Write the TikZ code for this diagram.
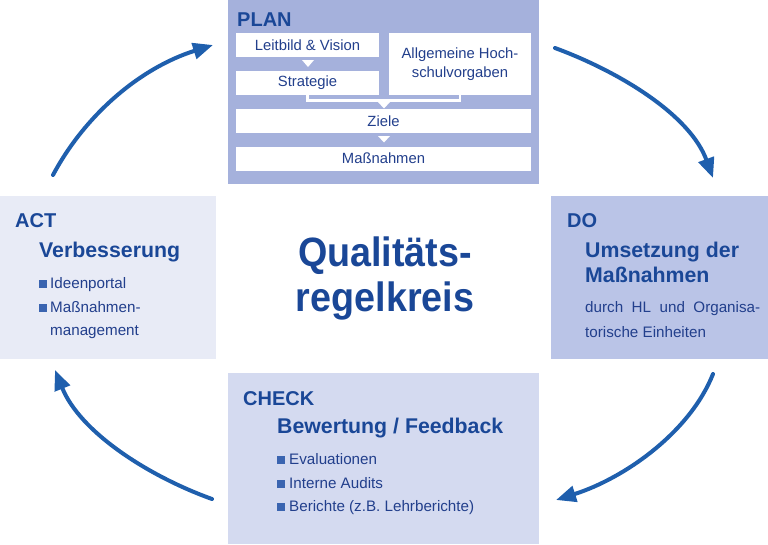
\documentclass[tikz,border=0pt]{standalone}
\usepackage{fontspec}
\setmainfont{Liberation Sans}
\newfontfamily\centrefont[FakeStretch=0.92]{Liberation Sans}
\usetikzlibrary{arrows.meta}
\definecolor{planbg}{HTML}{A5B1DC}
\definecolor{dobg}{HTML}{BAC4E7}
\definecolor{checkbg}{HTML}{D4DAF0}
\definecolor{actbg}{HTML}{E8EBF6}
\definecolor{headblue}{HTML}{1A4797}
\definecolor{textblue}{HTML}{223F8C}
\definecolor{bulletblue}{HTML}{3A64B0}
\definecolor{arrowblue}{HTML}{1F5FAD}
\tikzset{
  panel/.style={draw=none, inner sep=0pt, anchor=north west},
  whitebox/.style={fill=white, draw=none, inner sep=0pt, text=textblue, font=\fontsize{14.8}{19}\selectfont, align=center},
  title/.style={anchor=base west, inner sep=0pt, text=headblue, font=\fontsize{20}{24}\selectfont\bfseries},
  subtitle/.style={anchor=base west, inner sep=0pt, text=headblue, font=\fontsize{21.3}{25}\selectfont\bfseries},
  body/.style={anchor=base west, inner sep=0pt, text=textblue, font=\fontsize{15.2}{18}\selectfont},
  bulletsq/.style={fill=bulletblue, draw=none, inner sep=0pt, minimum size=8pt, anchor=south west},
  cyclearrow/.style={draw=arrowblue, line width=4pt, line cap=round, -{Triangle[length=20pt,width=16pt]}},
  wtri/.style={fill=white, draw=none}
}
\begin{document}
\begin{tikzpicture}[x=1pt,y=-1pt]
\useasboundingbox (0,0) rectangle (768,544);
% panels
\node[panel, fill=planbg, minimum width=311pt, minimum height=184pt] (plan) at (228,0) {};
\node[panel, fill=dobg, minimum width=217pt, minimum height=163pt] (do) at (551,196) {};
\node[panel, fill=checkbg, minimum width=311pt, minimum height=171pt] (check) at (228,373) {};
\node[panel, fill=actbg, minimum width=216pt, minimum height=163pt] (act) at (0,196) {};
% PLAN
\node[title] (plant) at (237,26) {PLAN};
\node[whitebox, minimum width=143pt, minimum height=24pt] (leit) at (307.5,45) {Leitbild \& Vision};
\node[whitebox, minimum width=143pt, minimum height=24pt] (strat) at (307.5,83) {Strategie};
\node[whitebox, minimum width=142pt, minimum height=62pt] (allg) at (460,64) {Allgemeine Hoch-\\schulvorgaben};
\node[whitebox, minimum width=295pt, minimum height=24pt] (ziele) at (383.5,121) {Ziele};
\node[whitebox, minimum width=295pt, minimum height=24pt] (mass) at (383.5,158.5) {Maßnahmen};
\fill[wtri] (302,60) -- (314,60) -- (308,67) -- cycle;
\draw[white, line width=2.5pt] (strat.south) -- ++(0,5.5) -| (allg.south);
\fill[wtri] (378,102) -- (390,102) -- (384,108.5) -- cycle;
\fill[wtri] (378,136) -- (390,136) -- (384,142.5) -- cycle;
% DO
\node[title] (dot) at (567,227) {DO};
\node[subtitle] (do1) at (585,257) {Umsetzung der};
\node[subtitle] (do2) at (585,282) {Maßnahmen};
\node[body] (do3) at (585,312) {\makebox[175pt][s]{durch HL und Organisa-}};
\node[body] (do4) at (585,337) {torische Einheiten};
% CHECK
\node[title] (checkt) at (243,405) {CHECK};
\node[subtitle] (ch1) at (277,433) {Bewertung / Feedback};
\node[bulletsq] (b1) at (277,464) {};
\node[body] (ch2) at (289,464) {Evaluationen};
\node[bulletsq] (b2) at (277,488) {};
\node[body] (ch3) at (289,488) {Interne Audits};
\node[bulletsq] (b3) at (277,511) {};
\node[body] (ch4) at (289,511) {Berichte (z.B. Lehrberichte)};
% ACT
\node[title] (actt) at (15,227) {ACT};
\node[subtitle] (a1) at (39,257) {Verbesserung};
\node[bulletsq] (b4) at (39,288) {};
\node[body] (a2) at (50,288) {Ideenportal};
\node[bulletsq] (b5) at (39,312) {};
\node[body] (a3) at (50,312) {Maßnahmen-};
\node[body] (a4) at (50,335) {management};
% centre
\node[anchor=base, inner sep=0pt, text=headblue, font=\centrefont\fontsize{41}{44}\selectfont\bfseries] (q1) at (385,266) {Qualitäts-};
\node[anchor=base, inner sep=0pt, text=headblue, font=\centrefont\fontsize{41}{44}\selectfont\bfseries] (q2) at (385,311) {regelkreis};
% arrows
\coordinate (a1s) at (53,175); \coordinate (a1e) at (213,45);
\coordinate (a2s) at (555,48); \coordinate (a2e) at (713,178);
\coordinate (a3s) at (713,374); \coordinate (a3e) at (556,500);
\coordinate (a4s) at (212,499); \coordinate (a4e) at (55,370);
\draw[cyclearrow] (a1s) .. controls (85,115) and (140,68) .. (a1e);
\draw[cyclearrow] (a2s) .. controls (620,72) and (690,115) .. (a2e);
\draw[cyclearrow] (a3s) .. controls (690,432) and (625,478) .. (a3e);
\draw[cyclearrow] (a4s) .. controls (148,476) and (80,432) .. (a4e);
\end{tikzpicture}
\end{document}
